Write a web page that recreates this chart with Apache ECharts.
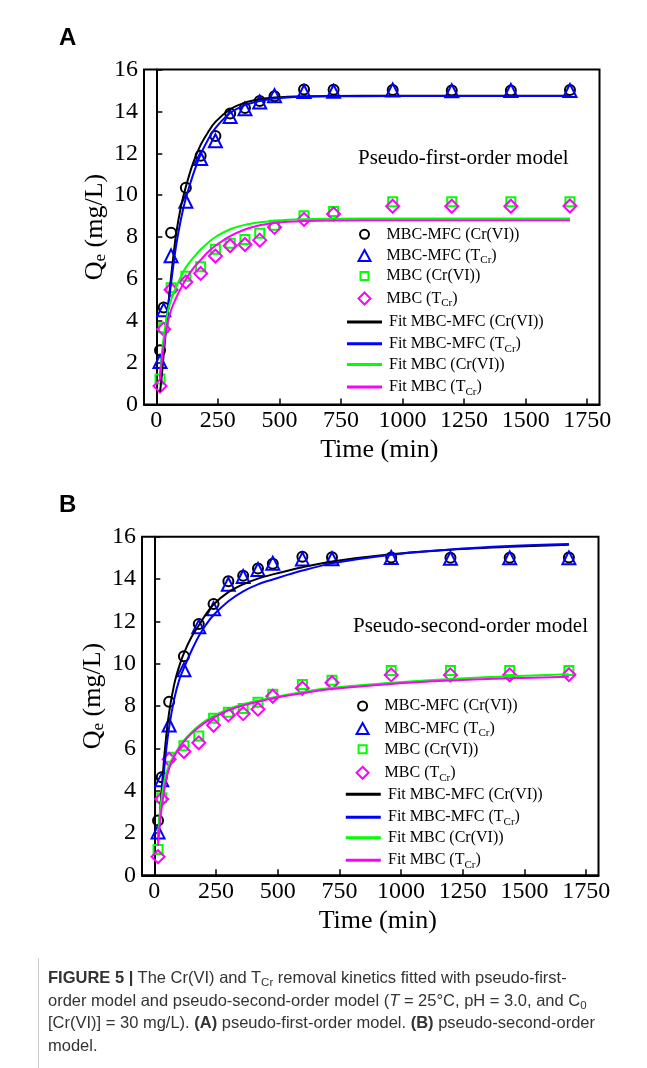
<!DOCTYPE html>
<html lang="en">
<head>
<meta charset="UTF-8">
<title>Kinetics fits</title>
<script src="https://cdn.jsdelivr.net/npm/echarts@6/dist/echarts.min.js"></script>
<style>
  body { margin: 0; background: #fff; }
  #main { position: absolute; left: 0; top: 0; width: 647px; height: 1068px; }
  #cap { position: absolute; left: 48px; top: 966px; font: 16.5px 'Liberation Sans', Arial, sans-serif; color: #333; line-height: 22.7px; white-space: nowrap; }
  #cap .sb { font-size: 11.5px; vertical-align: -3px; line-height: 0; }
  #bar { position: absolute; left: 38px; top: 958px; width: 1px; height: 110px; background: #ccc; }
</style>
</head>
<body>
<div id="main"></div>
<div id="bar"></div>
<div id="cap"><b>FIGURE 5 |</b> The Cr(VI) and T<span class="sb">Cr</span> removal kinetics fitted with pseudo-first-<br>order model and pseudo-second-order model (<i>T</i> = 25°C, pH = 3.0, and C<span class="sb">0</span><br>[Cr(VI)] = 30 mg/L). <b>(A)</b> pseudo-first-order model. <b>(B)</b> pseudo-second-order<br>model.</div>

<script type="text/javascript">
    // measured points (same data in both panels)
    var time = [15, 30, 60, 120, 180, 240, 300, 360, 420, 480, 600, 720, 960, 1200, 1440, 1680];
    var mfcCr = [2.59, 4.63, 8.2, 10.35, 11.88, 12.82, 13.9, 14.16, 14.5, 14.72, 15.05, 15.03, 15.02, 15.0, 15.0, 15.02];
    var mfcT = [2.05, 4.52, 7.1, 9.71, 11.75, 12.6, 13.75, 14.12, 14.45, 14.75, 14.95, 14.96, 15.02, 14.98, 15.0, 15.0];
    var mbcCr = [1.22, 3.66, 5.58, 6.12, 6.58, 7.42, 7.7, 7.88, 8.18, 8.56, 9.02, 9.22, 9.68, 9.68, 9.68, 9.68];
    var mbcT = [0.88, 3.6, 5.48, 5.85, 6.26, 7.09, 7.58, 7.64, 7.85, 8.46, 8.84, 9.1, 9.47, 9.47, 9.47, 9.48];

    // fitted curves
    var fitTime = [15, 20, 30, 45, 60, 80, 100, 120, 150, 180, 210, 240, 300, 360, 420, 480, 600, 720, 960, 1200, 1440, 1680];
    // pseudo-first-order (A)
    var pfoMfcCr = [0.6, 1.1, 2.4, 4.3, 6.1, 8.1, 9.45, 10.4, 11.55, 12.4, 13.0, 13.5, 14.1, 14.42, 14.58, 14.66, 14.72, 14.74, 14.75, 14.75, 14.75, 14.75];
    var pfoMfcT = [1.3, 2.0, 3.0, 4.4, 5.8, 7.55, 8.85, 9.85, 11.0, 11.95, 12.65, 13.2, 13.92, 14.3, 14.5, 14.62, 14.7, 14.72, 14.73, 14.73, 14.73, 14.73];
    var pfoMbcCr = [1.4, 2.0, 3.2, 4.35, 5.0, 5.6, 6.1, 6.55, 7.0, 7.4, 7.73, 8.0, 8.37, 8.58, 8.7, 8.78, 8.85, 8.87, 8.88, 8.88, 8.88, 8.88];
    var pfoMbcT = [1.2, 1.8, 2.8, 3.85, 4.5, 5.08, 5.55, 5.98, 6.5, 6.9, 7.28, 7.58, 8.04, 8.36, 8.56, 8.67, 8.76, 8.79, 8.8, 8.8, 8.8, 8.8];
    // pseudo-second-order (B)
    var psoMfcCr = [1.8, 2.5, 4.1, 6.2, 7.7, 9.0, 9.85, 10.5, 11.25, 11.8, 12.35, 12.8, 13.38, 13.75, 14.02, 14.22, 14.56, 14.83, 15.17, 15.38, 15.52, 15.62];
    var psoMfcT = [1.6, 2.3, 3.7, 5.6, 7.0, 8.3, 9.2, 9.8, 10.6, 11.3, 11.85, 12.3, 12.95, 13.42, 13.75, 13.98, 14.4, 14.74, 15.15, 15.4, 15.56, 15.66];
    var psoMbcCr = [1.8, 2.6, 3.7, 4.7, 5.2, 5.67, 6.05, 6.37, 6.75, 7.06, 7.32, 7.53, 7.85, 8.08, 8.25, 8.4, 8.66, 8.86, 9.1, 9.28, 9.4, 9.5];
    var psoMbcT = [1.4, 2.2, 3.2, 4.35, 5.05, 5.6, 6.0, 6.33, 6.7, 7.0, 7.25, 7.45, 7.8, 8.03, 8.2, 8.36, 8.6, 8.8, 9.04, 9.2, 9.31, 9.38];

    var xTicks = [0, 250, 500, 750, 1000, 1250, 1500, 1750];

    var SERIF = 'Liberation Serif';
    function pairs(xs, ys) {
        return xs.map(function (x, i) { return [x, ys[i]]; });
    }

    var grids = [
        { left: 144, top: 69.5, width: 455.5, height: 335 },
        { left: 142, top: 536.7, width: 456.5, height: 338.6 }
    ];

    var xAxes = [], yAxes = [];
    grids.forEach(function (g, gi) {
        g.show = true;
        g.borderColor = '#000';
        g.borderWidth = 2;
        xAxes.push({
            type: 'value', gridIndex: gi, min: -50, max: 1800,
            name: 'Time (min)', nameLocation: 'middle', nameGap: 33, nameMoveOverlap: false,
            nameTextStyle: { fontFamily: SERIF, fontSize: 26, color: '#000', padding: [0, 0, 0, 15] },
            splitLine: { show: false },
            axisLine: { lineStyle: { color: '#000', width: 2 } },
            axisTick: { inside: true, length: 6, customValues: xTicks, lineStyle: { color: '#000', width: 1.5 } },
            axisLabel: {
                customValues: xTicks, fontFamily: SERIF, fontSize: 24, color: '#000', margin: 4,
                formatter: function (v) { return String(v); }
            }
        });
        yAxes.push({
            type: 'value', gridIndex: gi, min: 0, max: 16, interval: 2,
            name: '{q|Q}{e|e}{q| (mg/L)}', nameLocation: 'middle', nameGap: 34, nameMoveOverlap: false,
            nameTextStyle: {
                padding: [0, 0, 0, 20],
                rich: {
                    q: { fontFamily: SERIF, fontSize: 26, color: '#000', lineHeight: 30 },
                    e: { fontFamily: SERIF, fontSize: 17, color: '#000', lineHeight: 18, padding: [12, 0, 0, 0] }
                }
            },
            splitLine: { show: false },
            axisLine: { lineStyle: { color: '#000', width: 2 } },
            axisTick: { inside: true, length: 6, lineStyle: { color: '#000', width: 1.5 } },
            axisLabel: { fontFamily: SERIF, fontSize: 24, color: '#000', margin: 6 }
        });
    });

    var marks = [
        { name: 'MBC-MFC (Cr(VI))', data: mfcCr, symbol: 'circle', size: 10, color: '#000000' },
        { name: 'MBC-MFC (T_Cr)', data: mfcT, symbol: 'triangle', size: 13, color: '#0000ff' },
        { name: 'MBC (Cr(VI))', data: mbcCr, symbol: 'rect', size: 9, color: '#00ff00' },
        { name: 'MBC (T_Cr)', data: mbcT, symbol: 'diamond', size: 13, color: '#ff00ff' }
    ];
    var fitsA = [pfoMfcCr, pfoMfcT, pfoMbcCr, pfoMbcT];
    var fitsB = [psoMfcCr, psoMfcT, psoMbcCr, psoMbcT];
    var lineColors = ['#000000', '#0000ff', '#00ff00', '#ff00ff'];
    var fitNames = ['Fit MBC-MFC (Cr(VI))', 'Fit MBC-MFC (T_Cr)', 'Fit MBC (Cr(VI))', 'Fit MBC (T_Cr)'];

    var series = [];
    [fitsA, fitsB].forEach(function (fits, gi) {
        marks.forEach(function (m) {
            series.push({
                type: 'scatter', name: m.name, xAxisIndex: gi, yAxisIndex: gi,
                symbol: m.symbol, symbolSize: m.size,
                itemStyle: { color: 'rgba(0,0,0,0)', borderColor: m.color, borderWidth: 2, opacity: 1 },
                data: pairs(time, m.data)
            });
        });
        fits.forEach(function (f, i) {
            series.push({
                type: 'line', name: fitNames[i], xAxisIndex: gi, yAxisIndex: gi,
                showSymbol: false, symbol: 'none', smooth: 0.35,
                lineStyle: { color: lineColors[i], width: 2 },
                itemStyle: { color: lineColors[i] },
                data: pairs(fitTime, f)
            });
        });
    });

    function fmt(name) {
        var i = name.indexOf('T_Cr');
        var t = i < 0 ? '{n|' + name + '}' : '{n|' + name.slice(0, i) + 'T}{s|Cr}{n|' + name.slice(i + 4) + '}';
        return '{g|}' + t;
    }
    function legendText(gap) {
        return {
            rich: {
                g: { width: gap, lineHeight: 22 },
                n: { fontFamily: SERIF, fontSize: 16, color: '#000', lineHeight: 22 },
                s: { fontFamily: SERIF, fontSize: 11, color: '#000', lineHeight: 12, padding: [10, 0, 0, 0] }
            }
        };
    }
    // [name, icon centre x, centre y, icon width, icon height, text start x]
    var legendRowsA = [
        ['MBC-MFC (Cr(VI))', 363.5, 237.3, 9, 9, 385.5], ['MBC-MFC (T_Cr)', 363.5, 256, 12, 11, 385.5],
        ['MBC (Cr(VI))', 363.5, 279, 8, 8, 385.5], ['MBC (T_Cr)', 363.5, 299, 12, 12, 385.5],
        ['Fit MBC-MFC (Cr(VI))', 364.5, 325, 35, 3, 389], ['Fit MBC-MFC (T_Cr)', 364.5, 344.3, 35, 3, 389],
        ['Fit MBC (Cr(VI))', 364.5, 367.5, 35, 3, 389], ['Fit MBC (T_Cr)', 364.5, 387.5, 35, 3, 389]
    ];
    var legendRowsB = [
        ['MBC-MFC (Cr(VI))', 361.6, 709, 9, 9, 383.6], ['MBC-MFC (T_Cr)', 361.6, 729, 12, 11, 383.6],
        ['MBC (Cr(VI))', 361.6, 752.3, 8, 8, 383.6], ['MBC (T_Cr)', 361.6, 773.3, 12, 12, 383.6],
        ['Fit MBC-MFC (Cr(VI))', 363.3, 797.3, 35, 3, 388], ['Fit MBC-MFC (T_Cr)', 363.3, 817.7, 35, 3, 388],
        ['Fit MBC (Cr(VI))', 363.3, 840.7, 35, 3, 388], ['Fit MBC (T_Cr)', 363.3, 860.7, 35, 3, 388]
    ];
    var legends = [];
    legendRowsA.concat(legendRowsB).forEach(function (r) {
        var isLine = r[0].indexOf('Fit') === 0;
        var d = { name: r[0] };
        if (isLine) d.icon = 'rect';
        var left = r[1] - r[3] / 2;
        var gap = Math.max(0, r[5] - (left + r[3] + 5));
        legends.push({
            data: [d], left: left, top: r[2] - 11, padding: 0,
            itemWidth: r[3], itemHeight: r[4], itemGap: 5,
            selectedMode: false, formatter: fmt, textStyle: legendText(gap)
        });
    });

    var myChart = echarts.init(document.getElementById('main'));
    var option = {
        animation: false,
        backgroundColor: '#fff',
        grid: grids,
        xAxis: xAxes,
        yAxis: yAxes,
        legend: legends,
        graphic: [
            { type: 'text', left: 59, top: 26, style: { text: 'A', font: 'bold 24px "Liberation Sans"', fill: '#000' } },
            { type: 'text', left: 59, top: 493, style: { text: 'B', font: 'bold 24px "Liberation Sans"', fill: '#000' } },
            { type: 'text', left: 358, top: 148, style: { text: 'Pseudo-first-order model', font: '21px "Liberation Serif"', fill: '#000' } },
            { type: 'text', left: 353, top: 616, style: { text: 'Pseudo-second-order model', font: '21px "Liberation Serif"', fill: '#000' } }
        ],
        series: series
    };
    myChart.setOption(option);
</script>
</body>
</html>
